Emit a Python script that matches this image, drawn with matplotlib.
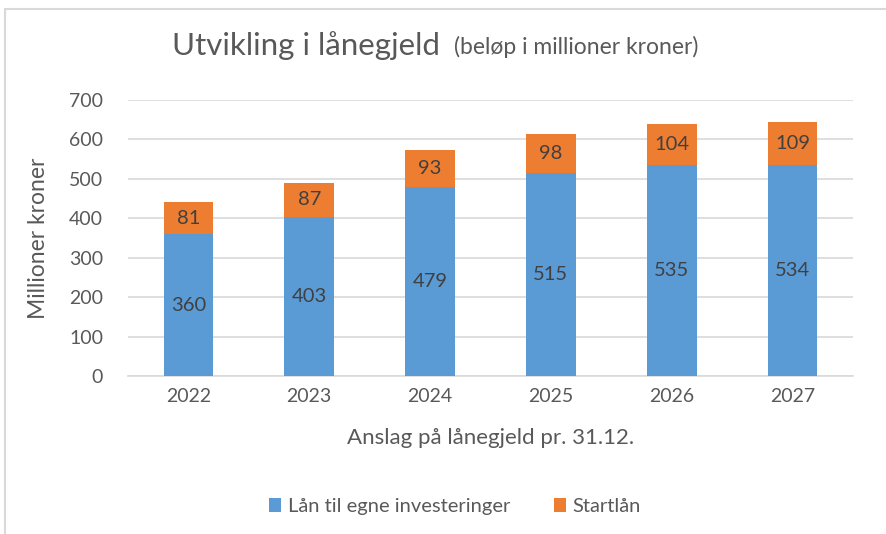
import numpy as np
import matplotlib.pyplot as plt
from matplotlib.patches import Rectangle

plt.rcParams['font.family'] = ['Lato', 'DejaVu Sans']

years = ['2022', '2023', '2024', '2025', '2026', '2027']
egne = [360, 403, 479, 515, 535, 534]
startlan = [81, 87, 93, 98, 104, 109]

blue = '#5B9BD5'
orange = '#ED7D31'
txt = '#595959'

fig = plt.figure(figsize=(8.87, 5.34), dpi=100)
ax = fig.add_axes([0.1443, 0.2959, 0.8174, 0.5168])

x = np.arange(len(years))
b1 = ax.bar(x, egne, width=0.41, color=blue, label='Lån til egne investeringer', zorder=3)
b2 = ax.bar(x, startlan, width=0.41, bottom=egne, color=orange, label='Startlån', zorder=3)

for i in range(len(years)):
    ax.text(x[i], egne[i] / 2, str(egne[i]), ha='center', va='center', fontsize=14.5, color='#404040', zorder=4)
    ax.text(x[i], egne[i] + startlan[i] / 2, str(startlan[i]), ha='center', va='center', fontsize=14.5, color='#404040', zorder=4)

ax.set_xlim(-0.5, len(years) - 0.5)
ax.set_ylim(0, 700)
ax.set_yticks(range(0, 701, 100))
ax.set_xticks(x)
ax.set_xticklabels(years)
ax.yaxis.grid(True, color='#D9D9D9', linewidth=1.2, zorder=0)
ax.set_axisbelow(True)
for s in ['top', 'right', 'left']:
    ax.spines[s].set_visible(False)
ax.spines['bottom'].set_color('#D9D9D9')
ax.spines['bottom'].set_linewidth(1.2)
ax.tick_params(axis='both', length=0, labelsize=14, colors=txt, pad=9)
ax.tick_params(axis='y', pad=18)

ax.set_ylabel('Millioner kroner', fontsize=16.5, color=txt, labelpad=14)
ax.set_xlabel('Anslag på lånegjeld pr. 31.12.', fontsize=16, color=txt, labelpad=16)

fig.text(0.194, 0.915, 'Utvikling i lånegjeld', fontsize=22.5, color=txt, va='center')
fig.text(0.512, 0.912, '(beløp i millioner kroner)', fontsize=16.5, color=txt, va='center')

fig.legend(handles=[b1, b2], loc='center', bbox_to_anchor=(0.513, 0.052), ncol=2,
           frameon=False, fontsize=14.5, labelcolor=txt, handlelength=0.6, handleheight=0.7,
           handletextpad=0.3, columnspacing=2.2)

# chart border (cut at right and bottom in the reference)
fig.add_artist(Rectangle((0.006, -0.05), 1.2, 1.033, transform=fig.transFigure,
                         fill=False, edgecolor='#D9D9D9', linewidth=1.5))

fig.savefig('out.png', dpi=100)
